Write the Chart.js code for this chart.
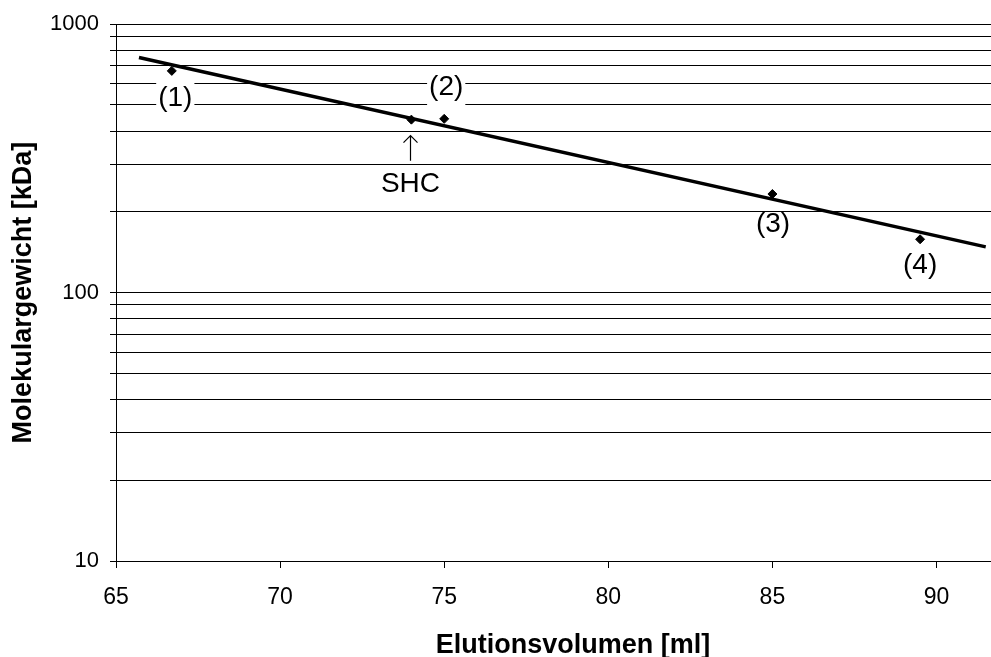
<!DOCTYPE html>
<html>
<head>
<meta charset="utf-8">
<script src="https://cdn.jsdelivr.net/npm/chart.js@4.4.1/dist/chart.umd.min.js"></script>
<style>
  html, body { margin: 0; padding: 0; background: #fff; }
  #wrap { width: 991px; height: 657px; }
</style>
</head>
<body>
<div id="wrap"><canvas id="myChart" width="991" height="657"></canvas></div>
<script>
// values
const standardX = [66.7, 75, 85, 89.5];
const standardY = [670, 444, 233, 158];
const standardLabels = ["(1)", "(2)", "(3)", "(4)"];

const shcX = [74];
const shcY = [441];
const shcLabel = "SHC";

// calibration line (end points)
const fitX = [65.7, 91.5];
const fitY = [752, 148];

const xTicks = [65, 70, 75, 80, 85, 90];
const yTickLabels = [10, 100, 1000];
const yGrid = [10, 20, 30, 40, 50, 60, 70, 80, 90,
  100, 200, 300, 400, 500, 600, 700, 800, 900, 1000];

const xTitle = "Elutionsvolumen [ml]";
const yTitle = "Molekulargewicht [kDa]";

Chart.defaults.font.family = "'Liberation Sans', Arial, sans-serif";
Chart.defaults.color = "#000";

// label placement relative to its point, in pixels
const labelShift = [[3.5, 29.5], [2, -29.3], [0.6, 32.8], [0, 29]];
const labelBox = [true, true, false, false];

const labelPlugin = {
  id: "pointLabels",
  afterDraw(chart) {
    const ctx = chart.ctx;
    const xs = chart.scales.x;
    const ys = chart.scales.y;
    ctx.save();
    ctx.font = "28px 'Liberation Sans', Arial, sans-serif";
    ctx.textAlign = "center";
    ctx.textBaseline = "middle";
    standardLabels.forEach((txt, i) => {
      const cx = xs.getPixelForValue(standardX[i]) + labelShift[i][0];
      const cy = ys.getPixelForValue(standardY[i]) + labelShift[i][1];
      if (labelBox[i]) {
        const w = ctx.measureText(txt).width + 4;
        ctx.fillStyle = "#fff";
        ctx.fillRect(cx - w / 2, cy - 18, w, 36);
      }
      ctx.fillStyle = "#000";
      ctx.fillText(txt, cx, cy - 2.5);
    });

    // SHC marker: arrow + name below the point
    const sx = Math.round(xs.getPixelForValue(shcX[0])) - 0.5;
    const sy = ys.getPixelForValue(shcY[0]);
    ctx.strokeStyle = "#000";
    ctx.lineWidth = 1.2;
    ctx.beginPath();
    ctx.moveTo(sx, sy + 16);
    ctx.lineTo(sx, sy + 41);
    ctx.moveTo(sx - 7, sy + 23);
    ctx.lineTo(sx, sy + 16);
    ctx.lineTo(sx + 7, sy + 23);
    ctx.stroke();
    ctx.fillText(shcLabel, sx, sy + 64.5);

    // x axis title (sits a bit right of the plot centre in the original)
    ctx.font = "bold 27px 'Liberation Sans', Arial, sans-serif";
    ctx.textBaseline = "alphabetic";
    ctx.fillText(xTitle, 573, 653);
    ctx.restore();
  }
};

const ctx = document.getElementById("myChart").getContext("2d");
const myChart = new Chart(ctx, {
  type: "scatter",
  data: {
    datasets: [
      {
        label: "Standards",
        data: standardX.map((x, i) => ({ x: x, y: standardY[i] })),
        pointStyle: "rectRot",
        pointRadius: 4.5,
        pointBorderWidth: 1,
        backgroundColor: "#000",
        borderColor: "#000",
        order: 0,
      },
      {
        label: "SHC",
        data: shcX.map((x, i) => ({ x: x, y: shcY[i] })),
        pointStyle: "rectRot",
        pointRadius: 4.5,
        pointBorderWidth: 1,
        backgroundColor: "#000",
        borderColor: "#000",
        order: 1,
      },
      {
        label: "Eichgerade",
        data: fitX.map((x, i) => ({ x: x, y: fitY[i] })),
        showLine: true,
        borderColor: "#000",
        borderWidth: 3.5,
        pointRadius: 0,
        order: 2,
      },
    ],
  },
  options: {
    responsive: false,
    animation: false,
    layout: { autoPadding: false, padding: { top: 20, left: 0, right: 0, bottom: 0 } },
    plugins: {
      legend: { display: false },
      tooltip: { enabled: false },
    },
    scales: {
      x: {
        type: "linear",
        min: 65,
        max: 91.66,
        afterBuildTicks: (s) => { s.ticks = xTicks.map((v) => ({ value: v })); },
        afterFit: (s) => { s.height = 96; s.paddingLeft = 0; s.paddingRight = 0; },
        grid: { drawOnChartArea: false, drawTicks: true, tickLength: 7, color: "#000" },
        border: { color: "#000", width: 1 },
        ticks: { font: { size: 23 }, padding: 16, autoSkip: false, maxRotation: 0 },
      },
      y: {
        type: "logarithmic",
        min: 10,
        max: 1000,
        afterBuildTicks: (s) => { s.ticks = yGrid.map((v) => ({ value: v })); },
        afterFit: (s) => { s.width = 116; },
        grid: { color: "#000", lineWidth: 1, tickLength: 6 },
        border: { color: "#000", width: 1 },
        ticks: {
          font: { size: 22 },
          padding: 11,
          autoSkip: false,
          callback: (v) => (yTickLabels.includes(v) ? String(v) : ""),
        },
        title: {
          display: true,
          text: yTitle,
          font: { size: 27, weight: "bold" },
          padding: { top: 7, bottom: 0 },
        },
      },
    },
  },
  plugins: [labelPlugin],
});
</script>
</body>
</html>
